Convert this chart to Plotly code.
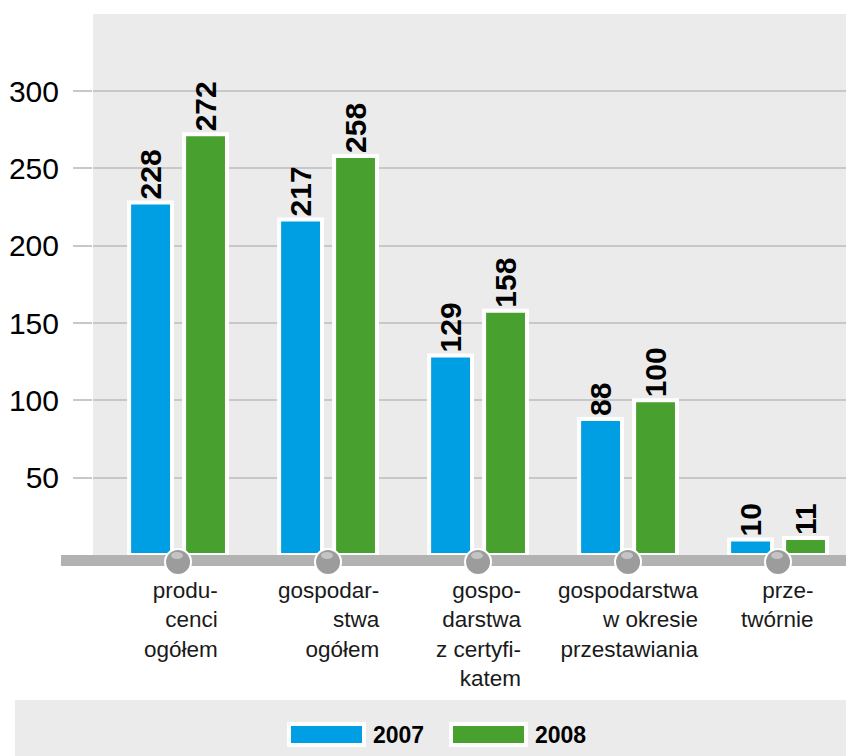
import plotly.graph_objects as go

categories = ["produ-<br>cenci<br>ogółem", "gospodar-<br>stwa<br>ogółem",
              "gospo-<br>darstwa<br>z certyfi-<br>katem",
              "gospodarstwa<br>w okresie<br>przestawiania", "prze-<br>twórnie"]
series_names = ["2007", "2008"]
values_2007 = [228, 217, 129, 88, 10]
values_2008 = [272, 258, 158, 100, 11]
tick_values = [50, 100, 150, 200, 250, 300]

colors = ["#009fe3", "#48a12e"]
label_shift = [42, 54, 45, 73, 38]

W, H = 846, 756
L, T, B_PX = 93, 14, 555
def px2x(px):
    return (px - L) / (W - L)
def py2y(py):
    return (B_PX - py) / (B_PX - T)

FONT = "Arial, Liberation Sans, sans-serif"
cat_idx = list(range(len(categories)))

fig = go.Figure()
for name, vals, col in zip(series_names, [values_2007, values_2008], colors):
    fig.add_trace(go.Bar(
        x=cat_idx, y=vals, name=name,
        marker=dict(color=col, line=dict(color="white", width=4)),
        text=[str(v) for v in vals], textposition="outside", textangle=-90,
        constraintext="none", cliponaxis=False,
        textfont=dict(family=FONT, size=30, color="black", weight="bold"),
        showlegend=False, hoverinfo="skip",
    ))

shapes = []
# baseline
shapes.append(dict(type="rect", xref="paper", x0=px2x(61), x1=1,
                   yref="paper", y0=py2y(566), y1=py2y(555),
                   fillcolor="#b2b2b2", line=dict(width=0), layer="above"))
# circles at category centers
for i in cat_idx:
    shapes.append(dict(type="circle", xref="x", xsizemode="pixel", xanchor=i,
                       x0=-13, x1=13, yref="paper", ysizemode="pixel", yanchor=0,
                       y0=-20, y1=6, fillcolor="#9c9c9c",
                       line=dict(color="white", width=2), layer="above"))
    shapes.append(dict(type="circle", xref="x", xsizemode="pixel", xanchor=i,
                       x0=-7, x1=5, yref="paper", ysizemode="pixel", yanchor=0,
                       y0=-4, y1=3, fillcolor="#c4c4c4",
                       line=dict(width=0), layer="above"))
# legend band
shapes.append(dict(type="rect", xref="paper", yref="paper",
                   x0=px2x(15), x1=1, y0=py2y(756), y1=py2y(700),
                   fillcolor="#ebebeb", line=dict(width=0), layer="below"))
annotations = []
sw_x = [287, 449]
for k, (name, col) in enumerate(zip(series_names, colors)):
    x0 = sw_x[k]
    shapes.append(dict(type="rect", xref="paper", yref="paper",
                       x0=px2x(x0), x1=px2x(x0 + 79), y0=py2y(747), y1=py2y(722),
                       fillcolor="white", line=dict(width=0)))
    shapes.append(dict(type="rect", xref="paper", yref="paper",
                       x0=px2x(x0 + 4), x1=px2x(x0 + 75), y0=py2y(743), y1=py2y(726),
                       fillcolor=col, line=dict(width=0)))
    annotations.append(dict(xref="paper", yref="paper", x=px2x(x0 + 84), y=py2y(735),
                            xanchor="left", yanchor="middle", text=name, showarrow=False,
                            font=dict(family=FONT, size=23, color="black", weight="bold")))

for i, (lab, sh) in enumerate(zip(categories, label_shift)):
    annotations.append(dict(xref="x", yref="paper", x=i, y=py2y(576),
                            xanchor="right", yanchor="top", xshift=sh, align="right",
                            text=lab, showarrow=False,
                            font=dict(family=FONT, size=22.5, color="#1a1a1a")))

fig.update_layout(
    template="none",
    width=W, height=H,
    margin=dict(l=L, r=0, t=T, b=H - B_PX, pad=0, autoexpand=False),
    paper_bgcolor="white", plot_bgcolor="#ebebeb",
    barmode="group", bargap=0.267, bargroupgap=0.22,
    shapes=shapes, annotations=annotations,
    xaxis=dict(range=[-0.567, 4.453], showticklabels=False, showgrid=False,
               zeroline=False, ticks="", automargin=False, showline=False),
    yaxis=dict(range=[0, 349.8], tickvals=tick_values, showgrid=True,
               gridcolor="#c8c8c8", gridwidth=1.5, zeroline=False,
               ticks="outside", ticklen=19, tickcolor="#c8c8c8", tickwidth=1.5,
               ticklabelstandoff=8, automargin=False, showline=False,
               tickfont=dict(family=FONT, size=30, color="black")),
)

fig.write_html("out.html", config={"displayModeBar": False},
               post_script="document.body.style.margin='0';document.body.style.overflow='hidden';")
